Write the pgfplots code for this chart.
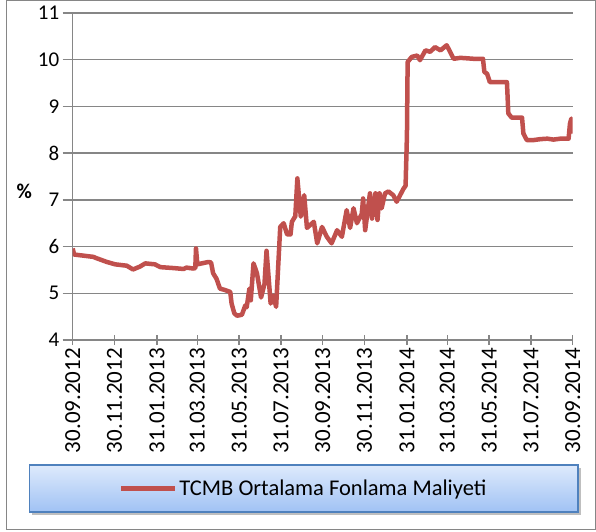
\documentclass[border=0pt]{standalone}
\usepackage{fontspec}
\setmainfont{Carlito}
\usepackage{pgfplots}
\pgfplotsset{compat=1.18}
\definecolor{lineRed}{RGB}{192,80,77}
\definecolor{gridGray}{RGB}{134,134,134}
\definecolor{legTop}{RGB}{222,234,252}
\definecolor{legBot}{RGB}{160,194,244}
\definecolor{legBorder}{RGB}{79,129,189}

\begin{document}
\begin{tikzpicture}
  \useasboundingbox (-72.7bp,-192bp) rectangle (523.3bp,340bp);
  % outer chart border
  \draw[gridGray, line width=1bp] (-65.7bp,-189bp) rectangle (522.3bp,339bp);
  % legend box, drawn under the axis legend
  \fill[black, opacity=0.25] (-40.4bp,-175bp) rectangle (508.3bp,-128bp);
  \shade[top color=legTop, bottom color=legBot] (-43.4bp,-172bp) rectangle (505.3bp,-125bp);
  \draw[legBorder, line width=1.2bp] (-43.4bp,-172bp) rectangle (505.3bp,-125bp);
  \begin{axis}[
      at={(0,0)}, anchor=south west,
      scale only axis, width=500bp, height=327bp,
      xmin=0, xmax=730, ymin=4, ymax=11,
      ytick={4,...,11},
      xtick={0,61,123,182,243,304,365,426,488,547,608,669,730},
      xticklabels={30.09.2012,30.11.2012,31.01.2013,31.03.2013,31.05.2013,31.07.2013,30.09.2013,30.11.2013,31.01.2014,31.03.2014,31.05.2014,31.07.2014,30.09.2014},
      y tick label style={font=\fontsize{21bp}{25bp}\selectfont},
      x tick label style={rotate=90, anchor=east, font=\fontsize{23bp}{27bp}\selectfont, inner sep=3bp},
      /pgf/number format/assume math mode=true,
      axis x line*=bottom, axis y line*=left,
      xtick align=center, ytick align=outside,
      major tick length=10bp,
      axis line style={gridGray, line width=1.3bp},
      tick style={gridGray, line width=1.3bp},
      ymajorgrids, grid style={gridGray, line width=1.3bp},
      ylabel={\textbf{\%}},
      ylabel style={rotate=-90, at={(axis description cs:-0.097,0.454)}, anchor=center, font=\fontsize{21bp}{25bp}\selectfont},
      legend style={draw=none, fill=none, at={(axis description cs:0.462,-0.454)}, anchor=center,
        font=\fontsize{22.5bp}{26bp}\selectfont},
      legend image code/.code={\draw[#1] (0bp,0bp) -- (54bp,0bp);},
    ]
    \addplot[lineRed, line width=4.5bp, line join=round] coordinates {
      (0,5.96) (2,5.83) (30,5.78) (35,5.75) (50,5.67) (62,5.62) (79,5.59)
      (88,5.51) (98,5.57) (106,5.64) (120,5.62) (128,5.56) (147,5.54)
      (162,5.52) (166,5.55) (176,5.53) (179,5.54) (180,5.96) (182,5.62)
      (198,5.67) (202,5.66) (205,5.43) (210,5.31) (215,5.10) (220,5.08)
      (230,5.03) (232,4.78) (236,4.57) (240,4.52) (247,4.54) (252,4.74)
      (254,4.70) (258,5.10) (260,4.85) (264,5.64) (269,5.43) (275,4.91)
      (280,5.20) (283,5.91) (289,4.78) (293,4.95) (297,4.71) (300,5.57)
      (303,6.42) (308,6.50) (313,6.26) (318,6.26) (320,6.53) (325,6.65)
      (328,7.46) (333,6.64) (338,7.10) (342,6.40) (352,6.53) (357,6.07)
      (364,6.42) (371,6.21) (378,6.07) (386,6.35) (393,6.21) (400,6.78)
      (405,6.40) (410,6.82) (415,6.50) (422,6.70) (424,7.03) (427,6.35)
      (434,7.14) (437,6.60) (442,7.14) (445,6.57) (448,7.14) (451,6.82)
      (456,7.14) (461,7.18) (468,7.10) (473,6.96) (478,7.10) (483,7.24)
      (486,7.30) (488,8.38) (489,9.95) (495,10.06) (503,10.09) (507,9.99)
      (515,10.20) (522,10.17) (529,10.27) (537,10.20) (546,10.31) (551,10.17)
      (556,10.02) (566,10.04) (576,10.03) (585,10.02) (599,10.02) (601,9.74)
      (605,9.70) (609,9.52) (634,9.52) (636,8.85) (641,8.76) (656,8.76)
      (658,8.42) (663,8.28) (673,8.28) (683,8.30) (693,8.31) (702,8.29)
      (712,8.31) (724,8.31) (726,8.63) (728,8.74) (730,8.42)
    };
    \addlegendentry{TCMB Ortalama Fonlama Maliyeti}
  \end{axis}
\end{tikzpicture}
\end{document}
